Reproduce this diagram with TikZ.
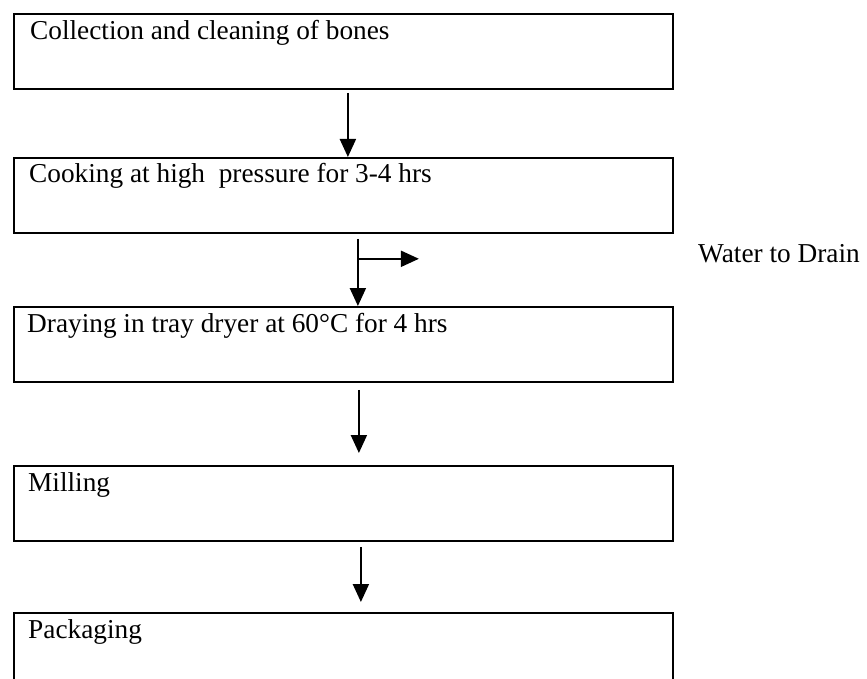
\documentclass[tikz,border=0pt]{standalone}
\usepackage{fontspec}
\setmainfont{Liberation Serif}
\usetikzlibrary{calc,arrows.meta}
\begin{document}
\begin{tikzpicture}[x=1pt,y=-1pt,
  stepbox/.style={draw, line width=1.8pt, minimum width=659pt, minimum height=75pt, anchor=north west, inner sep=0pt},
  txt/.style={font=\fontsize{27.3}{32}\selectfont, anchor=base west, inner sep=0pt},
  arr/.style={line width=2pt, -{Triangle[width=16pt,length=18pt]}}]
\useasboundingbox (0,0) rectangle (867,679);
\clip (0,0) rectangle (867,679);
\node[stepbox] (b1) at (13,13) {};
\node[stepbox] (b2) at (13,157) {};
\node[stepbox] (b3) at (13,306) {};
\node[stepbox] (b4) at (13,465) {};
\node[stepbox] (b5) at (13,612) {};
\node[txt] (t1) at ($(b1.north west)+(17,27)$) {Collection and cleaning of bones};
\node[txt] (t2) at ($(b2.north west)+(16,26)$) {Cooking at high\ \ pressure for 3-4 hrs};
\node[txt] (t3) at ($(b3.north west)+(14,26)$) {Draying in tray dryer at 60°C for 4 hrs};
\node[txt] (t4) at ($(b4.north west)+(15,26)$) {Milling};
\node[txt] (t5) at ($(b5.north west)+(15,26)$) {Packaging};
\node[txt] (drain) at (698,262) {Water to Drain};
\draw[arr] ($(b1.south)+(4.5,3)$) -- ($(b2.north)+(4.5,0)$);
\draw[arr] ($(b2.south)+(14.5,5)$) -- ($(b3.north)+(14.5,0)$);
\coordinate (br) at ($(b2.south)+(14.5,25)$);
\coordinate (brend) at ($(br)+(61,0)$);
\draw[arr] (br) -- (brend);
\draw[arr] ($(b3.south)+(15.5,7)$) -- ($(b4.north)+(15.5,-12)$);
\draw[arr] ($(b4.south)+(17.5,5)$) -- ($(b5.north)+(17.5,-10)$);
\end{tikzpicture}
\end{document}
